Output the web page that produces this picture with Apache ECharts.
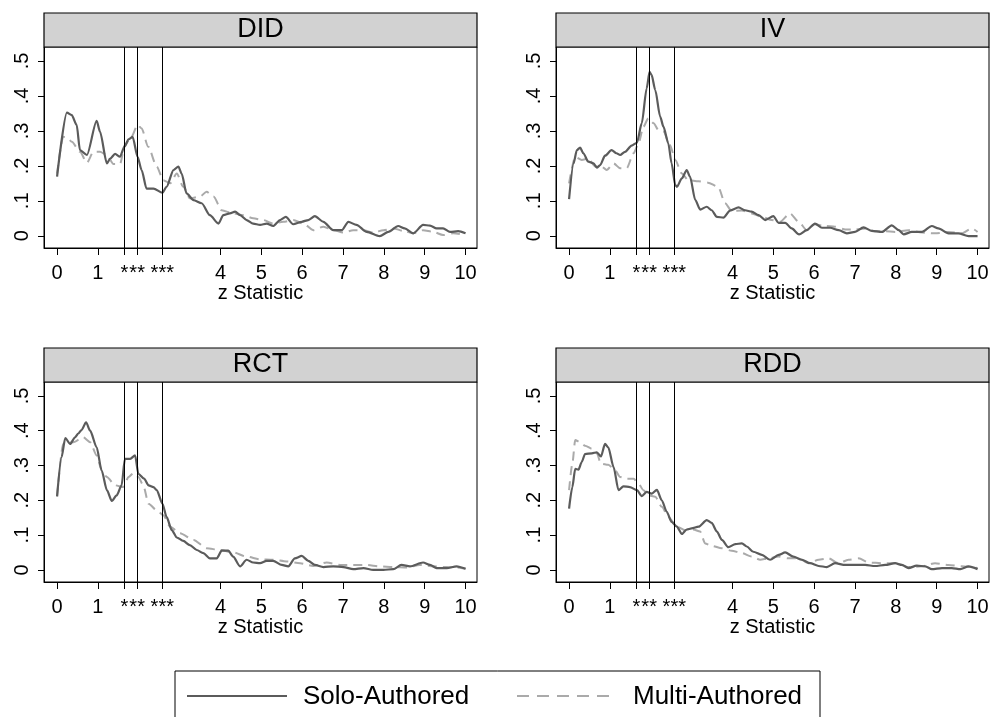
<!DOCTYPE html>
<html>
<head>
<meta charset="utf-8">
<script src="https://cdn.jsdelivr.net/npm/echarts@6/dist/echarts.min.js"></script>
<style>
  html, body { margin: 0; padding: 0; background: #ffffff; }
  #chart { width: 990px; height: 717px; }
</style>
</head>
<body>
<div id="chart"></div>
<script>
// Kernel densities of z statistics by method, [z, density] pairs
const didSolo = [[0,0.169],[0.24,0.352],[0.36,0.345],[0.48,0.317],[0.56,0.245],[0.73,0.231],[0.97,0.329],[1.05,0.298],[1.22,0.207],[1.30,0.221],[1.42,0.234],[1.54,0.226],[1.65,0.255],[1.75,0.276],[1.85,0.283],[1.97,0.226],[2.07,0.188],[2.19,0.135],[2.36,0.135],[2.58,0.123],[2.68,0.140],[2.85,0.188],[2.97,0.198],[3.05,0.178],[3.17,0.121],[3.34,0.102],[3.54,0.093],[3.74,0.059],[3.95,0.035],[4.07,0.059],[4.23,0.064],[4.36,0.069],[4.48,0.059],[4.64,0.045],[4.80,0.035],[4.97,0.031],[5.13,0.035],[5.29,0.028],[5.46,0.045],[5.60,0.054],[5.78,0.033],[5.99,0.040],[6.15,0.045],[6.31,0.056],[6.52,0.040],[6.76,0.016],[6.97,0.016],[7.13,0.040],[7.33,0.031],[7.58,0.011],[7.90,-0.001],[8.11,0.011],[8.35,0.028],[8.51,0.021],[8.72,0.007],[8.96,0.031],[9.13,0.029],[9.29,0.021],[9.45,0.021],[9.62,0.011],[9.82,0.013],[10,0.007]];
const didMulti = [[0,0.178],[0.15,0.283],[0.24,0.281],[0.36,0.269],[0.56,0.240],[0.73,0.209],[0.89,0.240],[1.05,0.240],[1.22,0.231],[1.38,0.205],[1.54,0.205],[1.66,0.260],[1.82,0.283],[1.97,0.317],[2.07,0.307],[2.23,0.255],[2.44,0.198],[2.60,0.159],[2.77,0.150],[2.93,0.178],[3.09,0.140],[3.25,0.107],[3.50,0.112],[3.66,0.126],[3.83,0.112],[4.03,0.073],[4.31,0.064],[4.56,0.059],[4.80,0.050],[5.05,0.045],[5.29,0.035],[5.54,0.040],[5.78,0.045],[6.03,0.035],[6.27,0.016],[6.52,0.026],[6.76,0.016],[7.01,0.009],[7.25,0.016],[7.50,0.016],[7.74,0.009],[7.99,0.016],[8.23,0.021],[8.48,0.014],[8.72,0.007],[8.96,0.016],[9.21,0.011],[9.45,0.002],[9.70,0.007],[10,0.002]];
const ivSolo = [[0,0.105],[0.11,0.207],[0.19,0.245],[0.27,0.252],[0.35,0.236],[0.47,0.212],[0.60,0.207],[0.68,0.195],[0.76,0.202],[0.88,0.229],[1.04,0.245],[1.16,0.236],[1.25,0.231],[1.37,0.240],[1.53,0.258],[1.66,0.266],[1.78,0.322],[1.90,0.422],[1.97,0.469],[2.02,0.460],[2.11,0.417],[2.23,0.341],[2.31,0.312],[2.43,0.264],[2.51,0.207],[2.60,0.145],[2.64,0.140],[2.76,0.164],[2.88,0.188],[2.96,0.169],[3.09,0.102],[3.21,0.075],[3.37,0.083],[3.49,0.073],[3.62,0.054],[3.78,0.052],[3.94,0.072],[4.15,0.081],[4.31,0.073],[4.47,0.069],[4.64,0.059],[4.80,0.045],[5.00,0.056],[5.13,0.037],[5.29,0.037],[5.45,0.021],[5.63,0.004],[5.82,0.016],[6.02,0.035],[6.19,0.023],[6.39,0.023],[6.60,0.016],[6.80,0.007],[7.00,0.011],[7.21,0.024],[7.41,0.014],[7.66,0.011],[7.90,0.030],[8.07,0.016],[8.19,0.004],[8.39,0.011],[8.64,0.011],[8.88,0.028],[9.04,0.021],[9.29,0.007],[9.53,0.007],[9.78,-0.001],[10,-0.001]];
const ivMulti = [[0,0.150],[0.15,0.226],[0.31,0.217],[0.47,0.221],[0.64,0.198],[0.80,0.198],[0.92,0.188],[1.09,0.207],[1.25,0.193],[1.41,0.193],[1.58,0.236],[1.70,0.264],[1.82,0.312],[1.94,0.336],[2.07,0.322],[2.19,0.302],[2.31,0.298],[2.47,0.260],[2.60,0.217],[2.76,0.178],[2.92,0.159],[3.17,0.156],[3.40,0.152],[3.65,0.140],[3.82,0.093],[3.98,0.071],[4.23,0.072],[4.47,0.064],[4.72,0.054],[4.96,0.045],[5.16,0.040],[5.41,0.064],[5.62,0.040],[5.82,0.016],[6.02,0.033],[6.27,0.028],[6.51,0.026],[6.76,0.018],[7.00,0.018],[7.25,0.021],[7.49,0.013],[7.74,0.013],[7.98,0.011],[8.31,0.016],[8.64,0.009],[8.96,0.007],[9.29,0.011],[9.61,0.007],[9.86,0.021],[10,0.011]];
const rctSolo = [[0,0.211],[0.11,0.324],[0.20,0.379],[0.32,0.362],[0.44,0.381],[0.52,0.392],[0.60,0.402],[0.71,0.424],[0.81,0.400],[0.97,0.352],[1.09,0.286],[1.22,0.229],[1.34,0.198],[1.46,0.214],[1.58,0.243],[1.66,0.319],[1.79,0.319],[1.91,0.329],[1.99,0.276],[2.13,0.262],[2.24,0.243],[2.36,0.238],[2.44,0.229],[2.58,0.190],[2.68,0.152],[2.81,0.114],[2.93,0.093],[3.09,0.083],[3.25,0.071],[3.42,0.057],[3.58,0.048],[3.74,0.033],[3.91,0.033],[4.03,0.055],[4.19,0.055],[4.31,0.038],[4.48,0.010],[4.64,0.029],[4.80,0.021],[4.97,0.019],[5.13,0.026],[5.29,0.026],[5.50,0.014],[5.66,0.010],[5.82,0.033],[5.99,0.040],[6.15,0.026],[6.31,0.014],[6.52,0.008],[6.76,0.010],[7.01,0.008],[7.25,0.002],[7.50,0.005],[7.74,0.000],[7.99,0.000],[8.23,0.002],[8.43,0.014],[8.64,0.010],[8.96,0.021],[9.13,0.014],[9.29,0.005],[9.54,0.005],[9.78,0.010],[10,0.003]];
const rctMulti = [[0,0.211],[0.15,0.362],[0.40,0.367],[0.64,0.381],[0.81,0.367],[0.97,0.329],[1.09,0.286],[1.22,0.267],[1.42,0.243],[1.62,0.238],[1.75,0.267],[1.87,0.278],[1.99,0.267],[2.11,0.243],[2.24,0.190],[2.44,0.171],[2.60,0.157],[2.77,0.124],[3.01,0.105],[3.34,0.086],[3.66,0.062],[3.99,0.057],[4.31,0.050],[4.64,0.038],[4.97,0.030],[5.29,0.029],[5.62,0.024],[5.95,0.019],[6.27,0.011],[6.60,0.021],[6.93,0.014],[7.25,0.014],[7.58,0.014],[7.90,0.010],[8.23,0.008],[8.56,0.007],[8.88,0.014],[9.21,0.010],[9.54,0.008],[9.78,0.007],[10,0.003]];
const rddSolo = [[0,0.176],[0.08,0.238],[0.15,0.290],[0.23,0.288],[0.31,0.310],[0.39,0.333],[0.56,0.335],[0.68,0.338],[0.78,0.326],[0.88,0.362],[0.96,0.352],[1.09,0.295],[1.21,0.229],[1.33,0.240],[1.49,0.238],[1.66,0.229],[1.78,0.212],[1.90,0.224],[2.02,0.219],[2.15,0.230],[2.27,0.200],[2.39,0.167],[2.51,0.138],[2.64,0.124],[2.76,0.103],[2.88,0.116],[3.00,0.119],[3.17,0.124],[3.37,0.143],[3.49,0.135],[3.62,0.110],[3.74,0.086],[3.90,0.065],[4.07,0.074],[4.23,0.076],[4.35,0.067],[4.51,0.052],[4.72,0.043],[4.92,0.029],[5.13,0.043],[5.29,0.050],[5.49,0.038],[5.70,0.029],[5.90,0.019],[6.11,0.011],[6.31,0.008],[6.51,0.019],[6.76,0.014],[7.00,0.014],[7.25,0.014],[7.49,0.011],[7.74,0.014],[7.98,0.019],[8.15,0.014],[8.31,0.005],[8.51,0.012],[8.72,0.010],[8.88,0.002],[9.13,0.005],[9.37,0.005],[9.58,0.002],[9.78,0.010],[10,0.002]];
const rddMulti = [[0,0.229],[0.08,0.305],[0.15,0.373],[0.27,0.367],[0.39,0.357],[0.56,0.348],[0.68,0.335],[0.78,0.305],[0.96,0.302],[1.13,0.286],[1.25,0.267],[1.41,0.262],[1.58,0.262],[1.70,0.248],[1.82,0.229],[1.94,0.214],[2.11,0.210],[2.27,0.181],[2.43,0.152],[2.64,0.124],[2.84,0.114],[3.04,0.116],[3.21,0.110],[3.33,0.076],[3.49,0.069],[3.74,0.062],[3.98,0.055],[4.23,0.048],[4.47,0.038],[4.68,0.029],[4.88,0.033],[5.13,0.038],[5.37,0.033],[5.62,0.033],[5.86,0.019],[6.11,0.029],[6.35,0.033],[6.60,0.019],[6.84,0.029],[7.09,0.033],[7.33,0.021],[7.66,0.019],[7.98,0.019],[8.31,0.008],[8.64,0.010],[8.96,0.019],[9.29,0.014],[9.61,0.010],[10,0.005]];

// Panel titles and the data drawn in each
const panelNames = ['DID', 'IV', 'RCT', 'RDD'];
const soloSeries = [didSolo, ivSolo, rctSolo, rddSolo];
const multiSeries = [didMulti, ivMulti, rctMulti, rddMulti];
const legendNames = ['Solo-Authored', 'Multi-Authored'];

// Axis ticks: conventional significance thresholds marked with stars
const zTicks = [0, 1, 1.645, 1.96, 2.576, 4, 5, 6, 7, 8, 9, 10];
const zTickLabels = ['0', '1', '*', '**', '***', '4', '5', '6', '7', '8', '9', '10'];
const sigCutoffs = [1.645, 1.96, 2.576];
const densityTicks = [0, 0.1, 0.2, 0.3, 0.4, 0.5];
const densityTickLabels = ['0', '.1', '.2', '.3', '.4', '.5'];
const xAxisTitle = 'z Statistic';

const FONT = '"Liberation Sans", Arial, Helvetica, sans-serif';
const SOLO_COLOR = '#5b5b5b';
const MULTI_COLOR = '#aaaaaa';

// Panel boxes: plot area and the title strip above it
const layout = [
  { left: 44,  top: 47,  width: 433, height: 201, stripTop: 13 },
  { left: 556, top: 47,  width: 433, height: 201, stripTop: 13 },
  { left: 44,  top: 382, width: 433, height: 200, stripTop: 348 },
  { left: 556, top: 382, width: 433, height: 200, stripTop: 348 }
];

function labelFor(values, labels) {
  return function (v) {
    for (let i = 0; i < values.length; i++) {
      if (Math.abs(values[i] - v) < 1e-6) return labels[i];
    }
    return '';
  };
}

const grids = [], xAxes = [], yAxes = [], series = [], graphics = [];

layout.forEach(function (p, i) {
  grids.push({
    left: p.left, top: p.top, width: p.width, height: p.height,
    show: true, borderColor: '#000', borderWidth: 1, backgroundColor: '#fff',
    containLabel: false, outerBoundsMode: 'none'
  });
  xAxes.push({
    type: 'value', gridIndex: i, min: -0.32, max: 10.28,
    name: xAxisTitle, nameLocation: 'middle', nameGap: 35,
    nameTextStyle: { fontFamily: FONT, fontSize: 20, color: '#000' },
    axisLine: { show: true, onZero: false, lineStyle: { color: '#000', width: 1 } },
    axisTick: { show: true, length: 7, customValues: zTicks, lineStyle: { color: '#000', width: 1 } },
    axisLabel: {
      show: true, customValues: zTicks, margin: 15,
      formatter: labelFor(zTicks, zTickLabels),
      fontFamily: FONT, fontSize: 20, color: '#000'
    },
    splitLine: { show: false }
  });
  yAxes.push({
    type: 'value', gridIndex: i, min: -0.035, max: 0.54,
    axisLine: { show: true, onZero: false, lineStyle: { color: '#000', width: 1 } },
    axisTick: { show: true, length: 6, customValues: densityTicks, lineStyle: { color: '#000', width: 1 } },
    axisLabel: {
      show: true, customValues: densityTicks, rotate: 90, margin: 12,
      formatter: labelFor(densityTicks, densityTickLabels),
      fontFamily: FONT, fontSize: 20, color: '#000'
    },
    splitLine: { show: false }
  });
  series.push({
    name: legendNames[0], type: 'line', xAxisIndex: i, yAxisIndex: i,
    data: soloSeries[i], showSymbol: false, smooth: 0.25, smoothMonotone: 'x',
    lineStyle: { color: SOLO_COLOR, width: 2.2 }, z: 3,
    markLine: {
      silent: true, symbol: ['none', 'none'], animation: false,
      label: { show: false },
      lineStyle: { color: '#000', width: 1, type: 'solid' },
      emphasis: { disabled: true },
      data: sigCutoffs.map(function (v) { return { xAxis: v }; })
    }
  });
  series.push({
    name: legendNames[1], type: 'line', xAxisIndex: i, yAxisIndex: i,
    data: multiSeries[i], showSymbol: false, smooth: 0.25, smoothMonotone: 'x',
    lineStyle: { color: MULTI_COLOR, width: 2, type: [9, 6] }, z: 2
  });

  // title strip
  graphics.push({
    type: 'rect', z: 10,
    shape: { x: p.left, y: p.stripTop, width: p.width, height: p.top - p.stripTop },
    style: { fill: '#d2d2d2', stroke: '#000', lineWidth: 1.2 }
  });
  graphics.push({
    type: 'text', z: 11,
    x: p.left + p.width / 2, y: (p.stripTop + p.top) / 2,
    style: {
      text: panelNames[i], fontFamily: FONT, fontSize: 27, fill: '#000',
      align: 'center', verticalAlign: 'middle'
    }
  });
});

// legend box at the foot of the figure
graphics.push({
  type: 'rect', z: 10,
  shape: { x: 175, y: 671, width: 645, height: 60 },
  style: { fill: '#fff', stroke: '#000', lineWidth: 1 }
});
graphics.push({
  type: 'line', z: 11,
  shape: { x1: 187, y1: 696, x2: 287, y2: 696 },
  style: { stroke: SOLO_COLOR, lineWidth: 2.2 }
});
graphics.push({
  type: 'text', z: 11, x: 303, y: 697,
  style: { text: legendNames[0], fontFamily: FONT, fontSize: 26, fill: '#000', align: 'left', verticalAlign: 'middle' }
});
graphics.push({
  type: 'line', z: 11,
  shape: { x1: 517, y1: 696, x2: 617, y2: 696 },
  style: { stroke: MULTI_COLOR, lineWidth: 2, lineDash: [12, 8] }
});
graphics.push({
  type: 'text', z: 11, x: 633, y: 697,
  style: { text: legendNames[1], fontFamily: FONT, fontSize: 26, fill: '#000', align: 'left', verticalAlign: 'middle' }
});

const chart = echarts.init(document.getElementById('chart'), null, { renderer: 'canvas' });
chart.setOption({
  backgroundColor: '#ffffff',
  animation: false,
  textStyle: { fontFamily: FONT },
  grid: grids,
  xAxis: xAxes,
  yAxis: yAxes,
  series: series,
  graphic: graphics
});
</script>
</body>
</html>
